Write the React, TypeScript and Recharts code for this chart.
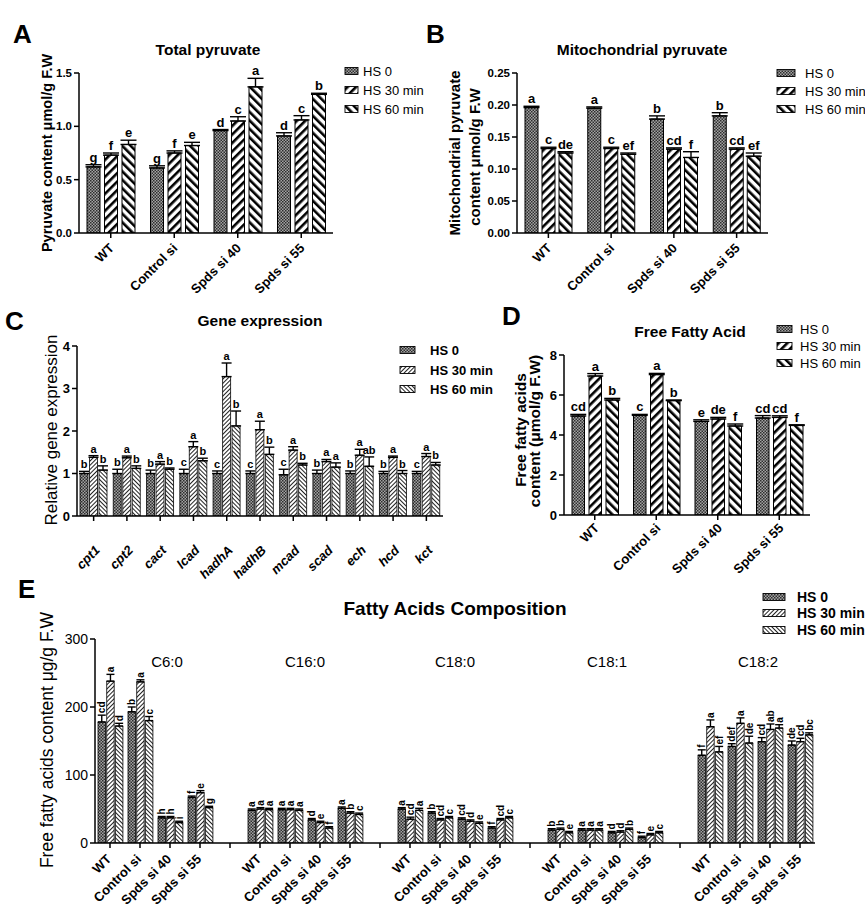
import React from 'react';
import { BarChart, Bar, XAxis, YAxis, ErrorBar, LabelList } from 'recharts';

const FONT = '"Liberation Sans", Arial, Helvetica, sans-serif';

const genotypes = ['WT', 'Control si', 'Spds si 40', 'Spds si 55'];
const seriesNames = ['HS 0', 'HS 30 min', 'HS 60 min'];

// Panel A – Total pyruvate
const aHS0 = [0.62, 0.61, 0.96, 0.91];
const aHS30 = [0.73, 0.75, 1.05, 1.06];
const aHS60 = [0.83, 0.82, 1.37, 1.3];
const aErr0 = [0.02, 0.02, 0.01, 0.03];
const aErr30 = [0.02, 0.02, 0.04, 0.04];
const aErr60 = [0.04, 0.03, 0.08, 0.01];
const aLet0 = ['g', 'g', 'd', 'd'];
const aLet30 = ['f', 'f', 'c', 'c'];
const aLet60 = ['e', 'e', 'a', 'b'];
const aTicks = [0, 0.5, 1, 1.5];

// Panel B – Mitochondrial pyruvate
const bHS0 = [0.196, 0.195, 0.178, 0.183];
const bHS30 = [0.132, 0.132, 0.131, 0.131];
const bHS60 = [0.125, 0.123, 0.118, 0.12];
const bErr0 = [0.002, 0.002, 0.005, 0.005];
const bErr30 = [0.002, 0.002, 0.002, 0.002];
const bErr60 = [0.002, 0.002, 0.009, 0.005];
const bLet0 = ['a', 'a', 'b', 'b'];
const bLet30 = ['c', 'c', 'cd', 'cd'];
const bLet60 = ['de', 'ef', 'f', 'ef'];
const bTicks = [0, 0.05, 0.1, 0.15, 0.2, 0.25];

// Panel C – Gene expression
const genes = ['cpt1', 'cpt2', 'cact', 'lcad', 'hadhA', 'hadhB', 'mcad', 'scad', 'ech', 'hcd', 'kct'];
const cHS0 = [1.0, 1.0, 1.0, 1.0, 1.0, 1.0, 0.97, 1.0, 1.0, 1.0, 1.0];
const cHS30 = [1.38, 1.37, 1.22, 1.63, 3.28, 2.03, 1.55, 1.28, 1.43, 1.38, 1.4];
const cHS60 = [1.08, 1.12, 1.1, 1.3, 2.12, 1.45, 1.2, 1.15, 1.17, 1.0, 1.2];
const cErr0 = [0.05, 0.1, 0.08, 0.1, 0.06, 0.06, 0.13, 0.08, 0.06, 0.05, 0.05];
const cErr30 = [0.04, 0.04, 0.06, 0.12, 0.32, 0.2, 0.08, 0.05, 0.14, 0.03, 0.07];
const cErr60 = [0.1, 0.06, 0.03, 0.06, 0.35, 0.17, 0.04, 0.1, 0.22, 0.07, 0.06];
const cLet0 = ['b', 'b', 'b', 'c', 'c', 'c', 'c', 'b', 'b', 'b', 'c'];
const cLet30 = ['a', 'a', 'a', 'a', 'a', 'a', 'a', 'a', 'a', 'a', 'a'];
const cLet60 = ['b', 'b', 'b', 'b', 'b', 'b', 'b', 'a', 'ab', 'b', 'b'];
const cTicks = [0, 1, 2, 3, 4];

// Panel D – Free fatty acid
const dHS0 = [4.95, 4.98, 4.68, 4.85];
const dHS30 = [6.95, 7.02, 4.8, 4.88];
const dHS60 = [5.75, 5.72, 4.45, 4.48];
const dErr0 = [0.08, 0.05, 0.08, 0.12];
const dErr30 = [0.12, 0.06, 0.08, 0.08];
const dErr60 = [0.08, 0.03, 0.1, 0.03];
const dLet0 = ['cd', 'c', 'e', 'cd'];
const dLet30 = ['a', 'a', 'de', 'cd'];
const dLet60 = ['b', 'b', 'f', 'f'];
const dTicks = [0, 2, 4, 6, 8];

// Panel E – Fatty acids composition (4 genotypes per fatty acid)
const eGroups = ['C6:0', 'C16:0', 'C18:0', 'C18:1', 'C18:2'];
const eHS0 = [178, 193, 37, 67, 48, 49, 34, 51, 50, 44, 35, 22, 19, 19, 15, 8, 129, 142, 149, 144];
const eHS30 = [238, 237, 37, 74, 50, 49, 30, 44, 35, 34, 32, 34, 20, 19, 16, 12, 171, 176, 167, 149];
const eHS60 = [172, 180, 30, 52, 49, 48, 22, 42, 48, 37, 29, 37, 15, 19, 20, 15, 134, 147, 169, 159];
const eErr0 = [10, 7, 2, 2, 2, 2, 2, 2, 2, 2, 2, 2, 2, 2, 2, 2, 8, 4, 6, 6];
const eErr30 = [10, 3, 2, 3, 2, 2, 2, 2, 3, 2, 2, 2, 2, 2, 2, 2, 10, 8, 8, 5];
const eErr60 = [4, 6, 2, 2, 2, 2, 2, 2, 3, 2, 2, 2, 2, 2, 2, 2, 8, 10, 5, 3];
const eLet0 = ['cd', 'b', 'h', 'f', 'a', 'a', 'd', 'a', 'a', 'b', 'cd', 'f', 'b', 'a', 'd', 'f', 'f', 'def', 'cd', 'de'];
const eLet30 = ['a', 'a', 'h', 'e', 'a', 'a', 'e', 'b', 'cd', 'cd', 'd', 'cd', 'b', 'a', 'd', 'e', 'a', 'a', 'ab', 'cd'];
const eLet60 = ['d', 'c', 'i', 'g', 'a', 'a', 'f', 'c', 'a', 'c', 'e', 'c', 'e', 'a', 'b', 'c', 'ef', 'de', 'a', 'bc'];
const eTicks = [0, 100, 200, 300];

type Row = {
  id: string;
  name: string;
  v0: number | null; v1: number | null; v2: number | null;
  e0: number; e1: number; e2: number;
  l0: string; l1: string; l2: string;
};

function makeRows(prefix: string, names: string[], vals: number[][], errs: number[][], lets: string[][]): Row[] {
  return names.map((name, i) => ({
    id: `${prefix}${i}`,
    name,
    v0: vals[0][i], v1: vals[1][i], v2: vals[2][i],
    e0: errs[0][i], e1: errs[1][i], e2: errs[2][i],
    l0: lets[0][i], l1: lets[1][i], l2: lets[2][i],
  }));
}

const rowsA = makeRows('a', genotypes, [aHS0, aHS30, aHS60], [aErr0, aErr30, aErr60], [aLet0, aLet30, aLet60]);
const rowsB = makeRows('b', genotypes, [bHS0, bHS30, bHS60], [bErr0, bErr30, bErr60], [bLet0, bLet30, bLet60]);
const rowsC = makeRows('c', genes, [cHS0, cHS30, cHS60], [cErr0, cErr30, cErr60], [cLet0, cLet30, cLet60]);
const rowsD = makeRows('d', genotypes, [dHS0, dHS30, dHS60], [dErr0, dErr30, dErr60], [dLet0, dLet30, dLet60]);

const rowsE: Row[] = (() => {
  const out: Row[] = [];
  eGroups.forEach((_, g) => {
    genotypes.forEach((name, j) => {
      const i = g * 4 + j;
      out.push({
        id: `e${i}`, name,
        v0: eHS0[i], v1: eHS30[i], v2: eHS60[i],
        e0: eErr0[i], e1: eErr30[i], e2: eErr60[i],
        l0: eLet0[i], l1: eLet30[i], l2: eLet60[i],
      });
    });
    if (g < eGroups.length - 1) {
      out.push({ id: `gap${g}`, name: '', v0: null, v1: null, v2: null, e0: 0, e1: 0, e2: 0, l0: '', l1: '', l2: '' });
    }
  });
  return out;
})();

const THICK = ['pDots', 'pThick30', 'pThick60'];
const THIN = ['pDots', 'pThin30', 'pThin60'];

type PanelProps = {
  rows: Row[];
  box: [number, number, number, number];
  margin: { top: number; right: number; left: number; bottom: number };
  yWidth: number;
  xHeight: number;
  domain: [number, number];
  ticks: number[];
  fmt: (v: number) => string;
  yFont: number;
  yWeight: string;
  xFont: number;
  xWeight: string;
  xItalic?: boolean;
  xOff: [number, number];
  barSize: number;
  barGap: number;
  pats: string[];
  letFont: number;
  rotLet?: boolean;
  capW: number;
  strokeW: number;
};

function Panel(p: PanelProps) {
  const byId: Record<string, Row> = {};
  p.rows.forEach((r) => { byId[r.id] = r; });

  const XTick = (tp: any) => {
    const r = byId[tp?.payload?.value];
    if (!r || !r.name) return null;
    const ax = tp.x + p.xOff[0];
    const ay = tp.y + p.xOff[1];
    return (
      <text x={ax} y={ay} transform={`rotate(-45 ${ax} ${ay})`} textAnchor="end"
        fontFamily={FONT} fontSize={p.xFont} fontWeight={p.xWeight}
        fontStyle={p.xItalic ? 'italic' : 'normal'} fill="#000">{r.name}</text>
    );
  };

  const makeLabel = (k: 0 | 1 | 2) => (lp: any) => {
    const r = byId[lp?.value];
    if (!r) return null;
    const v = (r as any)['v' + k] as number | null;
    const e = (r as any)['e' + k] as number;
    const l = (r as any)['l' + k] as string;
    if (v == null || !l) return null;
    const vb = lp.viewBox || lp;
    const x = Number(vb.x ?? lp.x);
    const y = Number(vb.y ?? lp.y);
    const w = Number(vb.width ?? lp.width);
    const hRaw = Number(vb.height ?? lp.height);
    const h = Math.abs(hRaw);
    const top = Math.min(y, y + hRaw);
    const ppu = v > 0 ? h / v : 0;
    const errTop = top - e * ppu;
    const cx = x + w / 2;
    if (p.rotLet) {
      const tx = cx + p.letFont * 0.36;
      const ty = errTop - 2;
      return (
        <text x={tx} y={ty} transform={`rotate(-90 ${tx} ${ty})`} textAnchor="start"
          fontFamily={FONT} fontSize={p.letFont} fontWeight="bold" fill="#000">{l}</text>
      );
    }
    return (
      <text x={cx} y={errTop - 3} textAnchor="middle" fontFamily={FONT}
        fontSize={p.letFont} fontWeight="bold" fill="#000">{l}</text>
    );
  };

  return (
    <div style={{ position: 'absolute', left: p.box[0], top: p.box[1], width: p.box[2], height: p.box[3] }}>
      <BarChart width={p.box[2]} height={p.box[3]} data={p.rows} margin={p.margin}
        barSize={p.barSize} barGap={p.barGap}>
        <XAxis dataKey="id" interval={0} tick={XTick} height={p.xHeight} tickSize={5}
          axisLine={{ stroke: '#000', strokeWidth: 1.5 }} tickLine={{ stroke: '#000', strokeWidth: 1.5 }} />
        <YAxis width={p.yWidth} domain={p.domain} ticks={p.ticks} allowDataOverflow interval={0}
          tickFormatter={p.fmt} tickSize={5}
          tick={{ fill: '#000', fontSize: p.yFont, fontWeight: p.yWeight as any, fontFamily: FONT }}
          axisLine={{ stroke: '#000', strokeWidth: 1.5 }} tickLine={{ stroke: '#000', strokeWidth: 1.5 }} />
        {[0, 1, 2].map((k) => (
          <Bar key={k} dataKey={'v' + k} name={seriesNames[k]} fill={`url(#${p.pats[k]})`}
            stroke="#000" strokeWidth={p.strokeW} isAnimationActive={false}>
            <ErrorBar dataKey={(d: any) => (d['v' + k] == null ? undefined : [0, d['e' + k]])}
              width={p.capW} stroke="#000" strokeWidth={1.4} direction="y" />
            <LabelList dataKey="id" content={makeLabel(k as 0 | 1 | 2)} />
          </Bar>
        ))}
      </BarChart>
    </div>
  );
}

function LegendBlock({ x, ys, sw, sh, tx, fs, fw, pats }: { x: number; ys: number[]; sw: number; sh: number; tx: number; fs: number; fw: string; pats: string[] }) {
  return (
    <g>
      {seriesNames.map((s, i) => (
        <g key={s}>
          <rect x={x} y={ys[i] - sh / 2} width={sw} height={sh} fill={`url(#${pats[i]})`} stroke="#000" strokeWidth={0.9} />
          <text x={tx} y={ys[i] + fs * 0.36} fontFamily={FONT} fontSize={fs} fontWeight={fw} fill="#000">{s}</text>
        </g>
      ))}
    </g>
  );
}

const T = (props: any) => <text fontFamily={FONT} fill="#000" {...props} />;

export default function App() {
  return (
    <div style={{ position: 'absolute', left: 0, top: 0, width: 865, height: 915, background: '#fff', overflow: 'hidden' }}>
      <svg width={0} height={0} style={{ position: 'absolute' }}>
        <defs>
          <pattern id="pDots" width="3" height="3" patternUnits="userSpaceOnUse">
            <rect width="3" height="3" fill="#a4a4a4" />
            <rect width="1.5" height="1.5" fill="#2e2e2e" />
            <rect x="1.5" y="1.5" width="1.5" height="1.5" fill="#2e2e2e" />
          </pattern>
          <pattern id="pThick30" width="6" height="6" patternUnits="userSpaceOnUse" patternTransform="rotate(45)">
            <rect width="6" height="6" fill="#fff" />
            <rect width="2.6" height="6" fill="#000" />
          </pattern>
          <pattern id="pThick60" width="6" height="6" patternUnits="userSpaceOnUse" patternTransform="rotate(-45)">
            <rect width="6" height="6" fill="#fff" />
            <rect width="2.6" height="6" fill="#000" />
          </pattern>
          <pattern id="pThin30" width="3" height="3" patternUnits="userSpaceOnUse" patternTransform="rotate(45)">
            <rect width="3" height="3" fill="#fff" />
            <rect width="1" height="3" fill="#222" />
          </pattern>
          <pattern id="pThin60" width="3" height="3" patternUnits="userSpaceOnUse" patternTransform="rotate(-45)">
            <rect width="3" height="3" fill="#fff" />
            <rect width="1" height="3" fill="#222" />
          </pattern>
        </defs>
      </svg>

      <Panel rows={rowsA} box={[0, 0, 340, 300]} margin={{ top: 73, right: 7, left: 49, bottom: 0 }}
        yWidth={30} xHeight={67} domain={[0, 1.5]} ticks={aTicks} fmt={(v) => v.toFixed(1)}
        yFont={11.5} yWeight="bold" xFont={13} xWeight="bold" xOff={[4, 9]}
        barSize={13} barGap={4.5} pats={THICK} letFont={13} capW={8} strokeW={1} />

      <Panel rows={rowsB} box={[420, 0, 360, 300]} margin={{ top: 73, right: 12, left: 57, bottom: 0 }}
        yWidth={40} xHeight={67} domain={[0, 0.25]} ticks={bTicks} fmt={(v) => v.toFixed(2)}
        yFont={11.5} yWeight="bold" xFont={13} xWeight="bold" xOff={[4, 9]}
        barSize={13} barGap={4} pats={THICK} letFont={13} capW={8} strokeW={1} />

      <Panel rows={rowsC} box={[0, 300, 450, 290]} margin={{ top: 46, right: 7, left: 52, bottom: 0 }}
        yWidth={25} xHeight={74} domain={[0, 4]} ticks={cTicks} fmt={(v) => String(v)}
        yFont={13} yWeight="bold" xFont={13} xWeight="bold" xItalic xOff={[7, 28]}
        barSize={8} barGap={1.5} pats={THIN} letFont={11} capW={5} strokeW={0.8} />

      <Panel rows={rowsD} box={[430, 300, 400, 290]} margin={{ top: 55, right: 20, left: 109, bottom: 0 }}
        yWidth={25} xHeight={75} domain={[0, 8]} ticks={dTicks} fmt={(v) => String(v)}
        yFont={13} yWeight="bold" xFont={13} xWeight="bold" xOff={[5, 7]}
        barSize={12.5} barGap={4.5} pats={THICK} letFont={13} capW={8} strokeW={1} />

      <Panel rows={rowsE} box={[0, 600, 865, 315]} margin={{ top: 39, right: 50, left: 55, bottom: 0 }}
        yWidth={40} xHeight={72} domain={[0, 300]} ticks={eTicks} fmt={(v) => String(v)}
        yFont={14} yWeight="normal" xFont={13} xWeight="bold" xOff={[2, 10]}
        barSize={7.5} barGap={1.2} pats={THIN} letFont={10} rotLet capW={4} strokeW={0.8} />

      <svg width={865} height={915} style={{ position: 'absolute', left: 0, top: 0, pointerEvents: 'none' }}>
        {/* Panel A */}
        <T x={13} y={43} fontSize={26} fontWeight="bold">A</T>
        <T x={208} y={55} fontSize={15.5} fontWeight="bold" textAnchor="middle">Total pyruvate</T>
        <T x={52} y={153} fontSize={14.5} fontWeight="bold" textAnchor="middle" transform="rotate(-90 52 153)">Pyruvate content μmol/g F.W</T>
        <LegendBlock x={345} ys={[71, 90, 109]} sw={13} sh={7} tx={363} fs={13} fw="normal" pats={THICK} />

        {/* Panel B */}
        <T x={426} y={43} fontSize={26} fontWeight="bold">B</T>
        <T x={642} y={55} fontSize={15.5} fontWeight="bold" textAnchor="middle">Mitochondrial pyruvate</T>
        <T x={460} y={153} fontSize={15} fontWeight="bold" textAnchor="middle" transform="rotate(-90 460 153)">Mitochondrial pyruvate</T>
        <T x={480} y={157} fontSize={15} fontWeight="bold" textAnchor="middle" transform="rotate(-90 480 157)">content μmol/g F.W</T>
        <LegendBlock x={777} ys={[73, 91, 109]} sw={18} sh={7} tx={805} fs={13} fw="normal" pats={THICK} />

        {/* Panel C */}
        <T x={5} y={330} fontSize={26} fontWeight="bold">C</T>
        <T x={260} y={326} fontSize={15.5} fontWeight="bold" textAnchor="middle">Gene expression</T>
        <T x={57} y={430} fontSize={17} textAnchor="middle" transform="rotate(-90 57 430)">Relative gene expression</T>
        <LegendBlock x={400} ys={[350, 370, 389]} sw={15} sh={7} tx={430} fs={13} fw="bold" pats={THIN} />

        {/* Panel D */}
        <T x={502} y={325} fontSize={26} fontWeight="bold">D</T>
        <T x={690} y={337} fontSize={15.5} fontWeight="bold" textAnchor="middle">Free Fatty Acid</T>
        <T x={526} y={430} fontSize={15.5} fontWeight="bold" textAnchor="middle" transform="rotate(-90 526 430)">Free fatty acids</T>
        <T x={540} y={431} fontSize={15.5} fontWeight="bold" textAnchor="middle" transform="rotate(-90 540 431)">content (μmol/g F.W)</T>
        <LegendBlock x={777} ys={[329, 346, 363]} sw={15} sh={7} tx={800} fs={13} fw="normal" pats={THICK} />

        {/* Panel E */}
        <T x={18} y={598} fontSize={26} fontWeight="bold">E</T>
        <T x={455} y={615} fontSize={19} fontWeight="bold" textAnchor="middle">Fatty Acids Composition</T>
        <T x={53} y={740} fontSize={17.5} textAnchor="middle" transform="rotate(-90 53 740)">Free fatty acids content μg/g F.W</T>
        {eGroups.map((g, i) => (
          <T key={g} x={[167, 305, 455, 607, 758][i]} y={667} fontSize={15} textAnchor="middle">{g}</T>
        ))}
        <LegendBlock x={763} ys={[597, 613, 630]} sw={22} sh={7} tx={797} fs={14} fw="bold" pats={THIN} />
      </svg>
    </div>
  );
}
